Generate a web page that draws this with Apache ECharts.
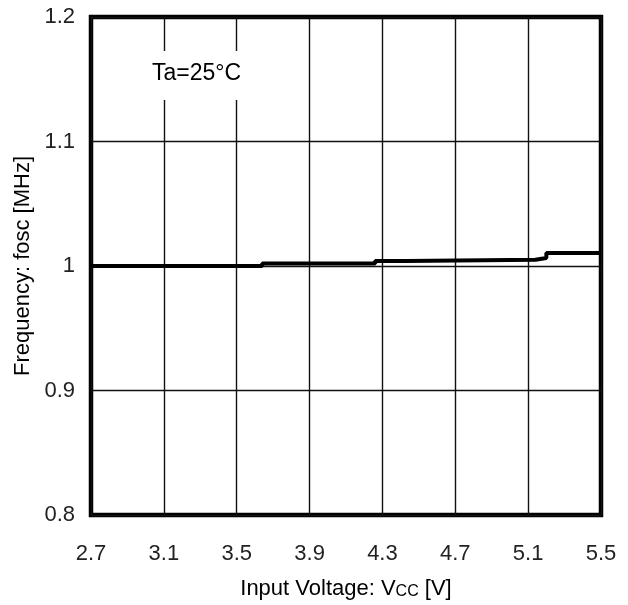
<!DOCTYPE html>
<html><head><meta charset="utf-8">
<script src="https://cdn.jsdelivr.net/npm/echarts@6/dist/echarts.min.js"></script>
<style>html,body{margin:0;padding:0;background:#fff}#c{width:628px;height:605px}</style>
</head><body><div id="c"></div>
<script>
const voltage = [2.7, 3.64, 4.26, 4.43, 5.14, 5.2, 5.5];
const frequency = [1.000, 1.002, 1.004, 1.005, 1.0065, 1.0105, 1.0105];
const xTicks = ['2.7','3.1','3.5','3.9','4.3','4.7','5.1','5.5'];
const yTicks = ['0.8','0.9','1','1.1','1.2'];
const annotation = 'Ta=25°C';

const chart = echarts.init(document.getElementById('c'));
const tickFont = '"Liberation Sans",Arial,sans-serif';
const font = '"Liberation Sans",Arial,sans-serif';
chart.setOption({
  animation: false,
  backgroundColor: '#fff',
  grid: {left: 91, right: 27, top: 17, bottom: 88, show: true, borderColor: '#000', borderWidth: 4.5, backgroundColor: 'transparent'},
  xAxis: {
    type: 'value', min: 2.7, max: 5.5, interval: 0.4,
    axisLine: {show: false}, axisTick: {show: false},
    splitLine: {show: true, lineStyle: {color: '#111', width: 1.4}},
    axisLabel: {margin: 28, color: '#222', fontSize: 22, fontFamily: tickFont,
      formatter: (v) => { const s = v.toFixed(1); return xTicks.includes(s) ? s : ''; }},
    name: '{n|Input Voltage: V}{s|CC}{n| [V]}', nameLocation: 'middle', nameGap: 63,
    nameTextStyle: {rich: {n: {fontSize: 22, color: '#000', fontFamily: font},
                           s: {fontSize: 16, color: '#000', fontFamily: font, padding: [5,0,0,0]}}}
  },
  yAxis: {
    type: 'value', min: 0.8, max: 1.2, interval: 0.1,
    axisLine: {show: false}, axisTick: {show: false},
    splitLine: {show: true, lineStyle: {color: '#111', width: 1.4}},
    axisLabel: {margin: 16, color: '#222', fontSize: 22, fontFamily: tickFont,
      formatter: (v) => { const s = String(Math.round(v*10)/10); return yTicks.includes(s) ? s : ''; }},
    name: 'Frequency: fosc [MHz]', nameLocation: 'middle', nameGap: 52,
    nameTextStyle: {fontSize: 22, color: '#000', fontFamily: font}
  },
  graphic: [{
    type: 'text', left: 148, top: 51, z: 100,
    style: {text: annotation, fontSize: 23, fill: '#000', fontFamily: font,
      backgroundColor: '#fff', padding: [11, 4, 15, 4]}
  }],
  series: [{
    type: 'line', step: 'end', symbol: 'none',
    data: voltage.map((v, i) => [v, frequency[i]]),
    lineStyle: {color: '#000', width: 4}
  }]
});
</script></body></html>
